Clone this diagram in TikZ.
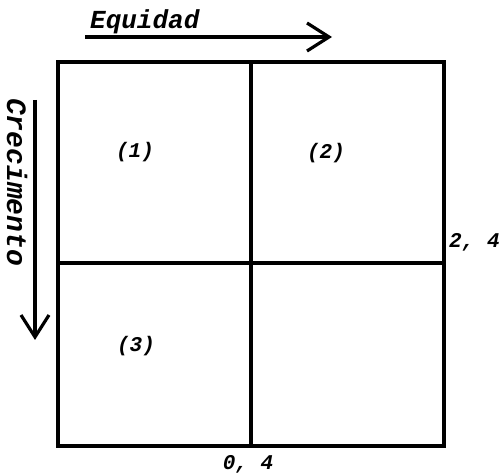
\documentclass[tikz,border=0pt]{standalone}
\usepackage{fontspec}
\usetikzlibrary{arrows.meta}
\setmainfont{Liberation Serif}
\newfontfamily\lblfont{Liberation Mono}
\begin{document}
\begin{tikzpicture}[x=1pt,y=-1pt,
  grid/.style={line width=3.2pt},
  axis/.style={line width=3.2pt, -{Straight Barb[length=22pt,width=28pt,line width=3.2pt]}},
  lbl/.style={font=\lblfont\bfseries\itshape\fontsize{21}{21}\selectfont, inner sep=0pt},
  word/.style={font=\lblfont\bfseries\itshape\fontsize{26}{26}\selectfont, inner sep=0pt}]
\useasboundingbox (0,0) rectangle (499,476);
\coordinate (tl) at (58,62);
\coordinate (tr) at (444,62);
\coordinate (bl) at (58,446);
\coordinate (br) at (444,446);
\coordinate (tm) at (251,62);
\coordinate (bm) at (251,446);
\coordinate (ml) at (58,263);
\coordinate (mr) at (444,263);
\draw[grid] (tl) rectangle (br);
\draw[grid] (tm) -- (bm);
\draw[grid] (ml) -- (mr);
\coordinate (ea) at (85,37);
\coordinate (eb) at (332,37);
\draw[axis] (ea) -- (eb);
\node[word, anchor=base west] (eq) at (90,29) {Equidad};
\coordinate (ca) at (35,100);
\coordinate (cb) at (35,340);
\draw[axis] (ca) -- (cb);
\node[word, rotate=-90, anchor=base west, font=\lblfont\bfseries\itshape\fontsize{28}{28}\selectfont] (cr) at (7,98) {Crecimento};
\node[lbl] (n1) at (135,152) {(1)};
\node[lbl] (n2) at (326,153) {(2)};
\node[lbl] (n3) at (136,346) {(3)};
\node[lbl, anchor=base west] (v24) at (449,248) {2, 4};
\node[lbl, anchor=base] (v04) at (248,470) {0, 4};
\end{tikzpicture}
\end{document}
